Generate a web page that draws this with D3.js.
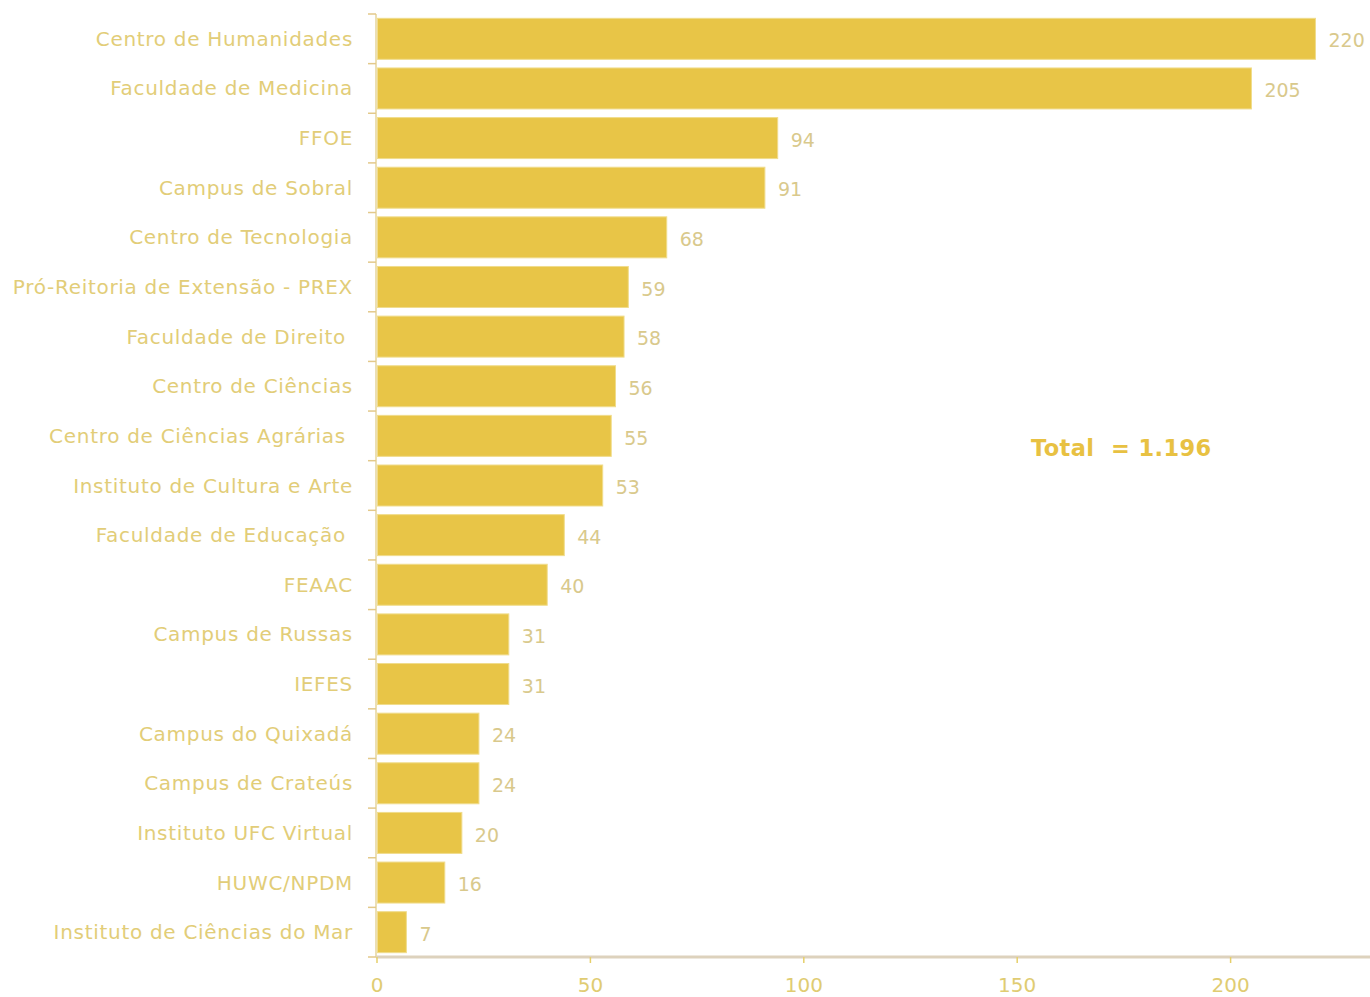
<!DOCTYPE html>
<html><head><meta charset="utf-8">
<script src="https://cdn.jsdelivr.net/npm/d3@7"></script>
<style>
html,body{margin:0;padding:0;background:#fff;}
svg{display:block;}
text{white-space:pre;}
</style></head>
<body>
<svg id="chart" width="1370" height="997"></svg>
<script>
const categories = ["Centro de Humanidades","Faculdade de Medicina","FFOE","Campus de Sobral","Centro de Tecnologia","Pró-Reitoria de Extensão - PREX","Faculdade de Direito ","Centro de Ciências","Centro de Ciências Agrárias ","Instituto de Cultura e Arte","Faculdade de Educação ","FEAAC","Campus de Russas","IEFES","Campus do Quixadá","Campus de Crateús","Instituto UFC Virtual","HUWC/NPDM","Instituto de Ciências do Mar"];
const values = [220,205,94,91,68,59,58,56,55,53,44,40,31,31,24,24,20,16,7];
const xTicks = [0,50,100,150,200];
const totalLabel = "Total  = 1.196";

const svg = d3.select("#chart");
const x = d3.scaleLinear().domain([0,220]).range([376.5, 376.5 + 220*4.268]);
const y = d3.scaleBand().domain(categories).range([14,957]).paddingInner(0.174).paddingOuter(0.087);
const step = y.step();

const labelFont = "'DejaVu Sans', sans-serif";

// bars
svg.append("g").selectAll("rect").data(values).join("rect")
  .attr("x", x(0)+1)
  .attr("y", (d,i)=>y(categories[i]))
  .attr("width", d=>x(d)-x(0)-1)
  .attr("height", y.bandwidth())
  .attr("fill", "#e8c547")
  .attr("stroke", "#f0dc8c")
  .attr("stroke-width", 1);

// y axis line
svg.append("line").attr("x1",376).attr("x2",376).attr("y1",14).attr("y2",957)
  .attr("stroke","#e6d49a").attr("stroke-width",1.5);

// y boundary ticks
const bounds = categories.map(c=>y(c) - step*0.087).concat([957]);
svg.append("g").selectAll("line").data(bounds).join("line")
  .attr("x1",368).attr("x2",376).attr("y1",d=>d).attr("y2",d=>d)
  .attr("stroke","#e3c98a").attr("stroke-width",1.5);

// category labels
svg.append("g").selectAll("text").data(categories).join("text")
  .attr("x",353)
  .attr("y",d=>y(d)+y.bandwidth()/2)
  .attr("dy","0.35em")
  .attr("text-anchor","end")
  .attr("font-family",labelFont)
  .attr("font-size",20)
  .attr("letter-spacing",0.7)
  .attr("fill","#e2cd78")
  .text(d=>d);

// value labels
svg.append("g").selectAll("text").data(values).join("text")
  .attr("x",d=>x(d)+13)
  .attr("y",(d,i)=>y(categories[i])+y.bandwidth()/2+2)
  .attr("dy","0.35em")
  .attr("font-family",labelFont)
  .attr("font-size",19)
  .attr("fill","#d9c98c")
  .text(d=>d);

// x axis
svg.append("line").attr("x1",376).attr("x2",1370).attr("y1",957).attr("y2",957)
  .attr("stroke","#ddd2bd").attr("stroke-width",3);
const xa = svg.append("g").attr("transform","translate(0,957)")
  .call(d3.axisBottom(x).tickValues(xTicks).tickSize(6).tickPadding(15));
xa.select(".domain").remove();
xa.selectAll(".tick line").attr("stroke","#e6cf6a").attr("stroke-width",1.5);
xa.selectAll(".tick text").attr("font-family",labelFont).attr("font-size",20).attr("fill","#e0cc72");

// total
svg.append("text").attr("x",1031).attr("y",448).attr("dy","0.35em")
  .attr("font-family","'DejaVu Sans', sans-serif").attr("font-weight","bold")
  .attr("font-size",22.5).attr("letter-spacing",0.4).attr("fill","#e8c142").text(totalLabel);
</script>
</body></html>
